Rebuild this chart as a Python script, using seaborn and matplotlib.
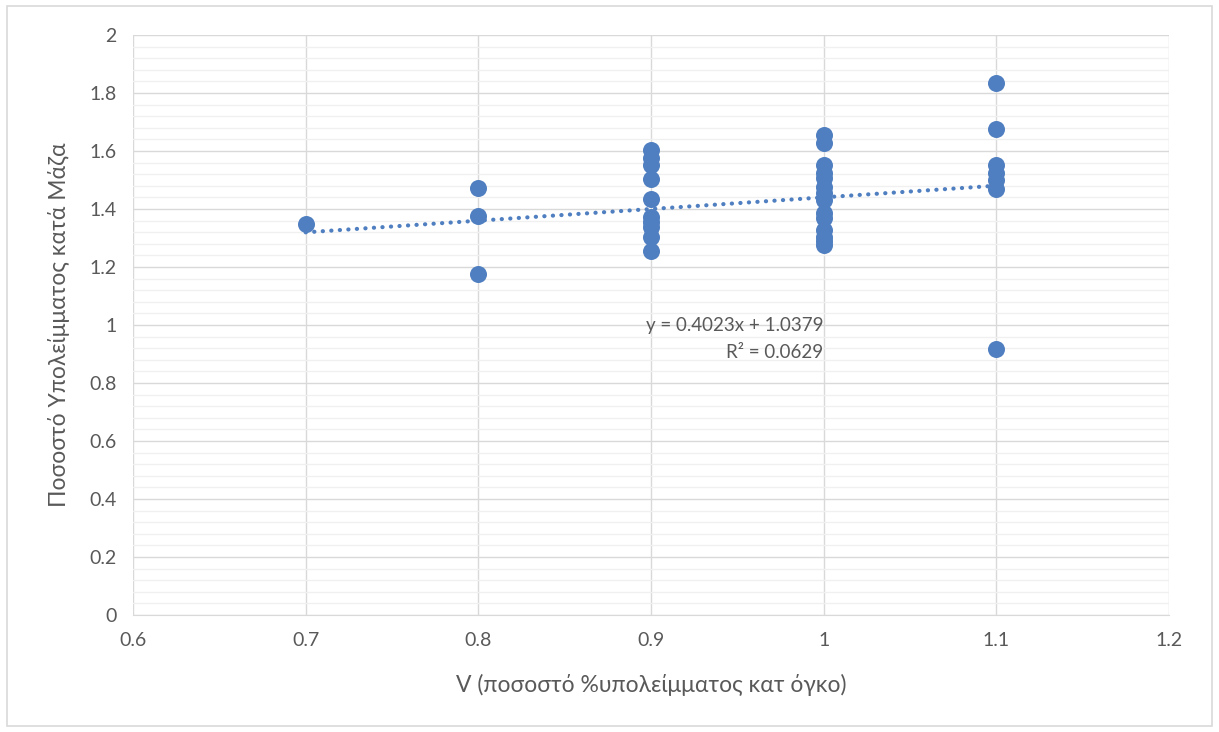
import numpy as np
import pandas as pd
import seaborn as sns
import matplotlib.pyplot as plt
from matplotlib.ticker import MultipleLocator

# values
v_07 = [1.348]
v_08 = [1.472, 1.375, 1.176]
v_09 = [1.605, 1.575, 1.552, 1.502, 1.433, 1.373, 1.356, 1.339, 1.304, 1.255]
v_10 = [1.655, 1.628, 1.552, 1.525, 1.507, 1.477, 1.454, 1.431, 1.385, 1.368,
        1.328, 1.304, 1.290, 1.276]
v_11 = [1.833, 1.675, 1.552, 1.524, 1.500, 1.468, 0.917]

slope = 0.4023
intercept = 1.0379
r2 = 0.0629

x_label = "V (ποσοστό %υπολείμματος κατ όγκο)"
y_label = "Ποσοστό Υπολείμματος κατά Μάζα"

groups = {0.7: v_07, 0.8: v_08, 0.9: v_09, 1.0: v_10, 1.1: v_11}
df = pd.DataFrame([(x, y) for x, ys in groups.items() for y in ys], columns=["V", "mass"])

sns.set_style("white")
plt.rcParams['font.family'] = ['Lato', 'DejaVu Sans']

text_col = '#595959'
blue = '#4F7FC0'

fig = plt.figure(figsize=(12.19, 7.32), dpi=100)
ax = fig.add_axes([0.1091, 0.1598, 0.8500, 0.7924])

sns.scatterplot(data=df, x="V", y="mass", ax=ax, s=150, color=blue,
                edgecolor=blue, linewidth=0, zorder=3)

# trendline
xs = np.array([df["V"].min(), df["V"].max()])
ax.plot(xs, slope * xs + intercept, linestyle=(0, (0.05, 2.0)), color=blue,
        linewidth=3.0, zorder=2, dash_capstyle='round')

ax.set_xlim(0.6, 1.2)
ax.set_ylim(0, 2)
ax.xaxis.set_major_locator(MultipleLocator(0.1))
ax.yaxis.set_major_locator(MultipleLocator(0.2))
ax.yaxis.set_minor_locator(MultipleLocator(0.04))
ax.grid(which='major', color='#D9D9D9', linewidth=1.0, zorder=0)
ax.grid(which='minor', axis='y', color='#F0F0F0', linewidth=1.0, zorder=0)
ax.set_axisbelow(True)

ax.set_xticks(np.round(np.arange(0.6, 1.21, 0.1), 1))
ax.set_xticklabels(['0.6', '0.7', '0.8', '0.9', '1', '1.1', '1.2'])
ax.set_yticks(np.round(np.arange(0, 2.01, 0.2), 1))
ax.set_yticklabels(['0', '0.2', '0.4', '0.6', '0.8', '1', '1.2', '1.4', '1.6', '1.8', '2'])

for side in ['top', 'right', 'left']:
    ax.spines[side].set_visible(False)
ax.spines['bottom'].set_color('#D9D9D9')
ax.tick_params(axis='both', length=0, labelsize=14, colors=text_col, pad=12)

ax.set_xlabel(x_label, fontsize=16.5, color=text_col, labelpad=18)
ax.set_ylabel(y_label, fontsize=16.5, color=text_col, labelpad=14)

ax.text(1.0, 1.0, f"y = {slope}x + {intercept}", ha='right', va='center',
        fontsize=13.5, color=text_col)
ax.text(0.9995, 0.905, f"R² = {r2}", ha='right', va='center',
        fontsize=13.5, color=text_col)

# outer chart border
fig.patches.append(plt.Rectangle((0.006, 0.008), 0.988, 0.984, transform=fig.transFigure,
                                 fill=False, edgecolor='#D9D9D9', linewidth=1.2))

fig.savefig("out.png", dpi=100)
